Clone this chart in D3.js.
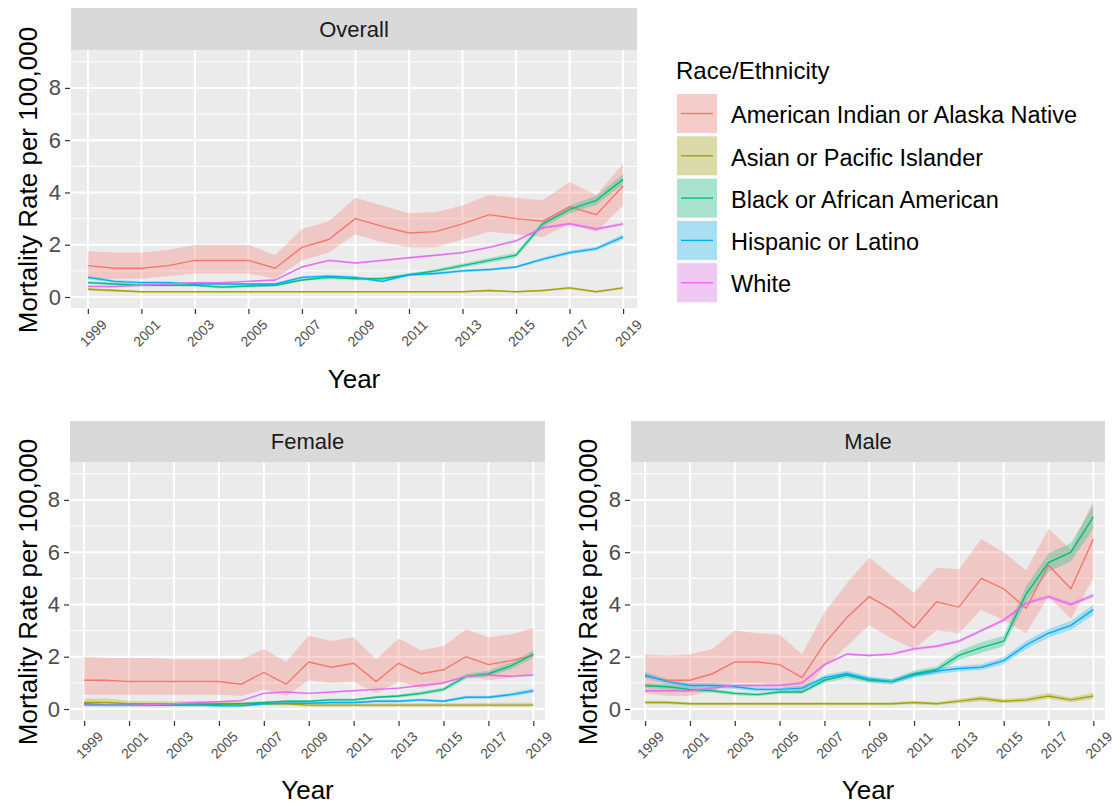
<!DOCTYPE html>
<html>
<head>
    <meta http-equiv="content-type" content="text/html; charset=utf-8"/>
    <title>Mortality Rate per 100,000 by Race/Ethnicity</title>
    <style type="text/css">
        body, html {width: 100%;height: 100%;overflow: hidden;margin:0;background:#fff;font-family:"Liberation Sans", Arial, sans-serif;}
        #chart {width:1113px;height:806px;}
    </style>
    <script src="https://cdn.jsdelivr.net/npm/d3@7"></script>
</head>
<body>
<div id="chart"></div>
<script>
// years and groups
var years = [1999,2000,2001,2002,2003,2004,2005,2006,2007,2008,2009,2010,2011,2012,2013,2014,2015,2016,2017,2018,2019];
var tickYears = [1999,2001,2003,2005,2007,2009,2011,2013,2015,2017,2019];
var yTicks = [0,2,4,6,8];
var groups = ["American Indian or Alaska Native","Asian or Pacific Islander","Black or African American","Hispanic or Latino","White"];
var colors = ["#F8766D","#A3A500","#00BF7D","#00B0F6","#E76BF3"];

// Overall
var ov_aian    = [1.2,1.1,1.1,1.2,1.4,1.4,1.4,1.1,1.9,2.2,3.0,2.7,2.45,2.5,2.8,3.15,3.0,2.9,3.45,3.15,4.25];
var ov_aian_lo = [0.7,0.7,0.7,0.8,0.9,0.9,0.9,0.7,1.4,1.7,2.4,2.1,1.9,1.9,2.2,2.5,2.4,2.3,2.8,2.5,3.5];
var ov_aian_hi = [1.75,1.7,1.7,1.8,2.0,2.0,2.0,1.6,2.6,2.9,3.8,3.5,3.2,3.25,3.5,3.9,3.8,3.7,4.4,3.9,5.1];
var ov_api     = [0.3,0.25,0.2,0.2,0.2,0.2,0.2,0.2,0.2,0.2,0.2,0.2,0.2,0.2,0.2,0.25,0.2,0.25,0.35,0.2,0.35];
var ov_api_lo  = [0.25,0.2,0.17,0.17,0.17,0.17,0.17,0.17,0.17,0.17,0.17,0.17,0.17,0.17,0.17,0.21,0.17,0.21,0.3,0.16,0.3];
var ov_api_hi  = [0.35,0.3,0.23,0.23,0.23,0.23,0.23,0.23,0.23,0.23,0.23,0.23,0.23,0.23,0.23,0.29,0.23,0.29,0.4,0.24,0.4];
var ov_blk     = [0.55,0.5,0.45,0.45,0.45,0.38,0.42,0.45,0.65,0.75,0.7,0.7,0.85,1.0,1.2,1.4,1.6,2.8,3.35,3.7,4.5];
var ov_blk_lo  = [0.5,0.45,0.4,0.4,0.4,0.33,0.37,0.4,0.6,0.7,0.64,0.64,0.79,0.93,1.12,1.31,1.5,2.68,3.2,3.53,4.3];
var ov_blk_hi  = [0.6,0.55,0.5,0.5,0.5,0.43,0.47,0.5,0.7,0.8,0.76,0.76,0.91,1.07,1.28,1.49,1.7,2.92,3.5,3.87,4.7];
var ov_his     = [0.75,0.6,0.55,0.55,0.5,0.5,0.5,0.5,0.75,0.8,0.75,0.6,0.85,0.9,1.0,1.05,1.15,1.45,1.7,1.85,2.3];
var ov_his_lo  = [0.68,0.55,0.5,0.5,0.46,0.46,0.46,0.46,0.7,0.75,0.7,0.56,0.8,0.85,0.95,1.0,1.1,1.39,1.63,1.78,2.2];
var ov_his_hi  = [0.82,0.65,0.6,0.6,0.54,0.54,0.54,0.54,0.8,0.85,0.8,0.64,0.9,0.95,1.05,1.1,1.2,1.51,1.77,1.92,2.4];
var ov_wht     = [0.4,0.4,0.45,0.5,0.55,0.55,0.6,0.65,1.15,1.4,1.3,1.4,1.5,1.6,1.7,1.9,2.15,2.65,2.8,2.6,2.8];
var ov_wht_lo  = [0.37,0.37,0.42,0.47,0.52,0.52,0.57,0.62,1.11,1.36,1.26,1.36,1.46,1.56,1.66,1.86,2.1,2.6,2.74,2.54,2.74];
var ov_wht_hi  = [0.43,0.43,0.48,0.53,0.58,0.58,0.63,0.68,1.19,1.44,1.34,1.44,1.54,1.64,1.74,1.94,2.2,2.7,2.86,2.66,2.86];

// Female
var fe_aian    = [1.1,1.1,1.05,1.05,1.05,1.05,1.05,0.95,1.4,0.95,1.8,1.6,1.75,1.05,1.75,1.35,1.5,2.0,1.7,1.85,2.05];
var fe_aian_lo = [0.55,0.55,0.55,0.55,0.55,0.55,0.55,0.5,0.75,0.5,1.1,1.0,1.05,0.6,1.05,0.8,0.95,1.3,1.1,1.2,1.35];
var fe_aian_hi = [2.0,1.95,1.95,1.95,1.9,1.9,1.9,1.9,2.3,1.8,2.8,2.6,2.75,1.9,2.7,2.25,2.4,3.05,2.75,2.85,3.1];
var fe_api     = [0.25,0.25,0.2,0.2,0.2,0.2,0.2,0.2,0.2,0.2,0.15,0.15,0.15,0.15,0.15,0.15,0.15,0.15,0.15,0.15,0.15];
var fe_api_lo  = [0.12,0.12,0.12,0.12,0.12,0.12,0.12,0.12,0.13,0.13,0.1,0.1,0.1,0.1,0.1,0.1,0.1,0.1,0.1,0.1,0.1];
var fe_api_hi  = [0.4,0.4,0.32,0.3,0.3,0.3,0.3,0.28,0.28,0.28,0.22,0.22,0.22,0.22,0.22,0.22,0.22,0.22,0.24,0.24,0.24];
var fe_blk     = [0.2,0.15,0.15,0.15,0.15,0.15,0.18,0.2,0.25,0.3,0.3,0.35,0.35,0.45,0.5,0.6,0.75,1.25,1.35,1.65,2.1];
var fe_blk_lo  = [0.15,0.11,0.11,0.11,0.11,0.11,0.14,0.16,0.21,0.26,0.26,0.3,0.3,0.4,0.44,0.53,0.67,1.15,1.24,1.52,1.95];
var fe_blk_hi  = [0.25,0.19,0.19,0.19,0.19,0.19,0.22,0.24,0.29,0.34,0.34,0.4,0.4,0.5,0.56,0.67,0.83,1.35,1.46,1.78,2.25];
var fe_his     = [0.15,0.15,0.15,0.15,0.15,0.15,0.12,0.12,0.2,0.22,0.22,0.25,0.25,0.3,0.3,0.35,0.3,0.45,0.45,0.55,0.7];
var fe_his_lo  = [0.11,0.11,0.11,0.11,0.11,0.11,0.09,0.09,0.16,0.18,0.18,0.21,0.21,0.25,0.25,0.3,0.25,0.39,0.39,0.48,0.61];
var fe_his_hi  = [0.19,0.19,0.19,0.19,0.19,0.19,0.15,0.15,0.24,0.26,0.26,0.29,0.29,0.35,0.35,0.4,0.35,0.51,0.51,0.62,0.79];
var fe_wht     = [0.15,0.15,0.15,0.17,0.2,0.25,0.28,0.32,0.6,0.65,0.6,0.65,0.7,0.75,0.8,0.9,1.0,1.25,1.3,1.25,1.3];
var fe_wht_lo  = [0.12,0.12,0.12,0.14,0.17,0.22,0.25,0.29,0.57,0.62,0.57,0.62,0.67,0.72,0.77,0.87,0.96,1.21,1.26,1.21,1.26];
var fe_wht_hi  = [0.18,0.18,0.18,0.2,0.23,0.28,0.31,0.35,0.63,0.68,0.63,0.68,0.73,0.78,0.83,0.93,1.04,1.29,1.34,1.29,1.34];

// Male
var ma_aian    = [1.25,1.1,1.1,1.35,1.8,1.8,1.7,1.2,2.5,3.5,4.3,3.8,3.1,4.1,3.9,5.0,4.6,3.85,5.5,4.6,6.5];
var ma_aian_lo = [0.6,0.5,0.5,0.7,1.0,1.0,0.9,0.6,1.6,2.4,3.2,2.7,2.3,3.0,2.9,3.8,3.4,2.9,4.3,3.45,5.0];
var ma_aian_hi = [2.1,2.05,2.1,2.3,3.0,2.9,2.85,2.1,3.7,4.8,5.8,5.1,4.45,5.4,5.35,6.5,6.0,5.3,6.9,6.1,8.0];
var ma_api     = [0.25,0.25,0.2,0.2,0.2,0.2,0.2,0.2,0.2,0.2,0.2,0.2,0.25,0.2,0.3,0.4,0.3,0.35,0.5,0.35,0.5];
var ma_api_lo  = [0.18,0.18,0.14,0.14,0.14,0.14,0.14,0.14,0.14,0.14,0.14,0.14,0.18,0.14,0.22,0.3,0.22,0.26,0.39,0.26,0.38];
var ma_api_hi  = [0.32,0.32,0.26,0.26,0.26,0.26,0.26,0.26,0.26,0.26,0.26,0.26,0.32,0.26,0.38,0.5,0.38,0.44,0.61,0.44,0.62];
var ma_blk     = [0.9,0.85,0.75,0.7,0.6,0.55,0.65,0.65,1.1,1.3,1.1,1.05,1.35,1.5,2.05,2.35,2.6,4.4,5.6,6.0,7.35];
var ma_blk_lo  = [0.8,0.76,0.67,0.62,0.53,0.49,0.58,0.58,1.0,1.18,1.0,0.95,1.23,1.37,1.88,2.15,2.4,4.1,5.25,5.65,6.9];
var ma_blk_hi  = [1.0,0.94,0.83,0.78,0.67,0.61,0.72,0.72,1.2,1.42,1.2,1.15,1.47,1.63,2.22,2.55,2.8,4.7,5.95,6.35,7.8];
var ma_his     = [1.3,1.05,0.9,0.9,0.85,0.75,0.75,0.8,1.2,1.35,1.15,1.05,1.3,1.45,1.55,1.6,1.85,2.45,2.9,3.2,3.8];
var ma_his_lo  = [1.18,0.95,0.81,0.81,0.77,0.67,0.67,0.72,1.1,1.24,1.05,0.96,1.2,1.34,1.44,1.49,1.72,2.3,2.74,3.03,3.6];
var ma_his_hi  = [1.42,1.15,0.99,0.99,0.93,0.83,0.83,0.88,1.3,1.46,1.25,1.14,1.4,1.56,1.66,1.71,1.98,2.6,3.06,3.37,4.0];
var ma_wht     = [0.7,0.7,0.7,0.8,0.9,0.9,0.9,1.0,1.7,2.1,2.05,2.1,2.3,2.4,2.6,3.0,3.4,4.05,4.3,4.0,4.35];
var ma_wht_lo  = [0.65,0.65,0.65,0.75,0.85,0.85,0.85,0.95,1.65,2.05,2.0,2.05,2.24,2.34,2.54,2.94,3.33,3.98,4.22,3.92,4.27];
var ma_wht_hi  = [0.75,0.75,0.75,0.85,0.95,0.95,0.95,1.05,1.75,2.15,2.1,2.15,2.36,2.46,2.66,3.06,3.47,4.12,4.38,4.08,4.43];

function series(rate, lo, hi) {
    return years.map(function (y, i) { return {year: y, v: rate[i], lo: lo[i], hi: hi[i]}; });
}

var panels = [
    {title: "Overall", x0: 71, x1: 637, y0: 50, y1: 308, stripTop: 8, ytx: 28,
     xtitleY: 388, data: [series(ov_aian, ov_aian_lo, ov_aian_hi), series(ov_api, ov_api_lo, ov_api_hi),
        series(ov_blk, ov_blk_lo, ov_blk_hi), series(ov_his, ov_his_lo, ov_his_hi), series(ov_wht, ov_wht_lo, ov_wht_hi)]},
    {title: "Female", x0: 70, x1: 545, y0: 462, y1: 720, stripTop: 421, ytx: 28,
     xtitleY: 799, data: [series(fe_aian, fe_aian_lo, fe_aian_hi), series(fe_api, fe_api_lo, fe_api_hi),
        series(fe_blk, fe_blk_lo, fe_blk_hi), series(fe_his, fe_his_lo, fe_his_hi), series(fe_wht, fe_wht_lo, fe_wht_hi)]},
    {title: "Male", x0: 631, x1: 1105, y0: 462, y1: 720, stripTop: 421, ytx: 588,
     xtitleY: 799, data: [series(ma_aian, ma_aian_lo, ma_aian_hi), series(ma_api, ma_api_lo, ma_api_hi),
        series(ma_blk, ma_blk_lo, ma_blk_hi), series(ma_his, ma_his_lo, ma_his_hi), series(ma_wht, ma_wht_lo, ma_wht_hi)]}
];

var svg = d3.select("#chart").append("svg").attr("width", 1113).attr("height", 806);

function drawPanel(p) {
    var x = d3.scaleLinear().domain([1998.37, 2019.52]).range([p.x0, p.x1]);
    var y = d3.scaleLinear().domain([-0.42, 9.45]).range([p.y1, p.y0]);
    var g = svg.append("g");

    // strip
    g.append("rect").attr("x", p.x0).attr("y", p.stripTop).attr("width", p.x1 - p.x0)
        .attr("height", p.y0 - p.stripTop).attr("fill", "#d9d9d9");
    g.append("text").attr("x", (p.x0 + p.x1) / 2).attr("y", (p.stripTop + p.y0) / 2)
        .attr("dy", "0.35em").attr("text-anchor", "middle").attr("font-size", 22)
        .attr("fill", "#1a1a1a").text(p.title);

    // panel background + grid
    g.append("rect").attr("x", p.x0).attr("y", p.y0).attr("width", p.x1 - p.x0)
        .attr("height", p.y1 - p.y0).attr("fill", "#ebebeb");
    g.selectAll("line.minor").data([1,3,5,7,9]).enter().append("line")
        .attr("x1", p.x0).attr("x2", p.x1).attr("y1", function (d) { return y(d); })
        .attr("y2", function (d) { return y(d); }).attr("stroke", "#fff").attr("stroke-width", 1);
    g.selectAll("line.hmajor").data(yTicks).enter().append("line")
        .attr("x1", p.x0).attr("x2", p.x1).attr("y1", function (d) { return y(d); })
        .attr("y2", function (d) { return y(d); }).attr("stroke", "#fff").attr("stroke-width", 2);
    g.selectAll("line.vmajor").data(tickYears).enter().append("line")
        .attr("y1", p.y0).attr("y2", p.y1).attr("x1", function (d) { return x(d); })
        .attr("x2", function (d) { return x(d); }).attr("stroke", "#fff").attr("stroke-width", 2);

    // ribbons then lines
    var area = d3.area().x(function (d) { return x(d.year); })
        .y0(function (d) { return y(d.lo); }).y1(function (d) { return y(d.hi); });
    var line = d3.line().x(function (d) { return x(d.year); }).y(function (d) { return y(d.v); });
    p.data.forEach(function (s, i) {
        g.append("path").attr("d", area(s)).attr("fill", colors[i]).attr("fill-opacity", 0.3);
    });
    p.data.forEach(function (s, i) {
        g.append("path").attr("d", line(s)).attr("fill", "none").attr("stroke", colors[i]).attr("stroke-width", 1.4);
    });

    // axes
    var ya = g.append("g").attr("transform", "translate(" + (p.x0 - 1) + ",0)")
        .call(d3.axisLeft(y).tickValues(yTicks).tickSize(5).tickPadding(4));
    ya.select(".domain").remove();
    ya.selectAll("line").attr("stroke", "#333").attr("stroke-width", 1.2);
    ya.selectAll("text").attr("font-size", 22).attr("fill", "#4d4d4d").attr("font-family", "Liberation Sans, Arial, sans-serif");

    var xa = g.append("g").attr("transform", "translate(0," + (p.y1 + 1) + ")")
        .call(d3.axisBottom(x).tickValues(tickYears).tickFormat(d3.format("d")).tickSize(5));
    xa.select(".domain").remove();
    xa.selectAll("line").attr("stroke", "#333").attr("stroke-width", 1.2);
    xa.selectAll("text").attr("y", 0).attr("dy", "0.35em").attr("text-anchor", "middle")
        .attr("transform", "translate(5,24) rotate(-45)").attr("font-size", 14)
        .attr("fill", "#4d4d4d").attr("font-family", "Liberation Sans, Arial, sans-serif");

    // axis titles
    g.append("text").attr("x", (p.x0 + p.x1) / 2).attr("y", p.xtitleY).attr("text-anchor", "middle")
        .attr("font-size", 26).attr("fill", "#000").text("Year");
    g.append("text").attr("transform", "translate(" + p.ytx + "," + ((p.y0 + p.y1) / 2 + 1) + ") rotate(-90)")
        .attr("dy", "0.35em").attr("text-anchor", "middle").attr("font-size", 26)
        .attr("fill", "#000").text("Mortality Rate per 100,000");
}

panels.forEach(drawPanel);

// legend
var lg = svg.append("g");
lg.append("text").attr("x", 676).attr("y", 79).attr("font-size", 24).attr("fill", "#000").text("Race/Ethnicity");
groups.forEach(function (name, i) {
    var ky = 94 + i * 42.3;
    lg.append("rect").attr("x", 677).attr("y", ky).attr("width", 40).attr("height", 39).attr("fill", "#f2f2f2");
    lg.append("rect").attr("x", 677).attr("y", ky).attr("width", 40).attr("height", 39)
        .attr("fill", colors[i]).attr("fill-opacity", 0.3);
    lg.append("line").attr("x1", 681).attr("x2", 713).attr("y1", ky + 19.5).attr("y2", ky + 19.5)
        .attr("stroke", colors[i]).attr("stroke-width", 1.4);
    lg.append("text").attr("x", 731).attr("y", ky + 21).attr("dy", "0.35em").attr("font-size", 23.5)
        .attr("fill", "#000").text(name);
});
</script>
</body>
</html>
